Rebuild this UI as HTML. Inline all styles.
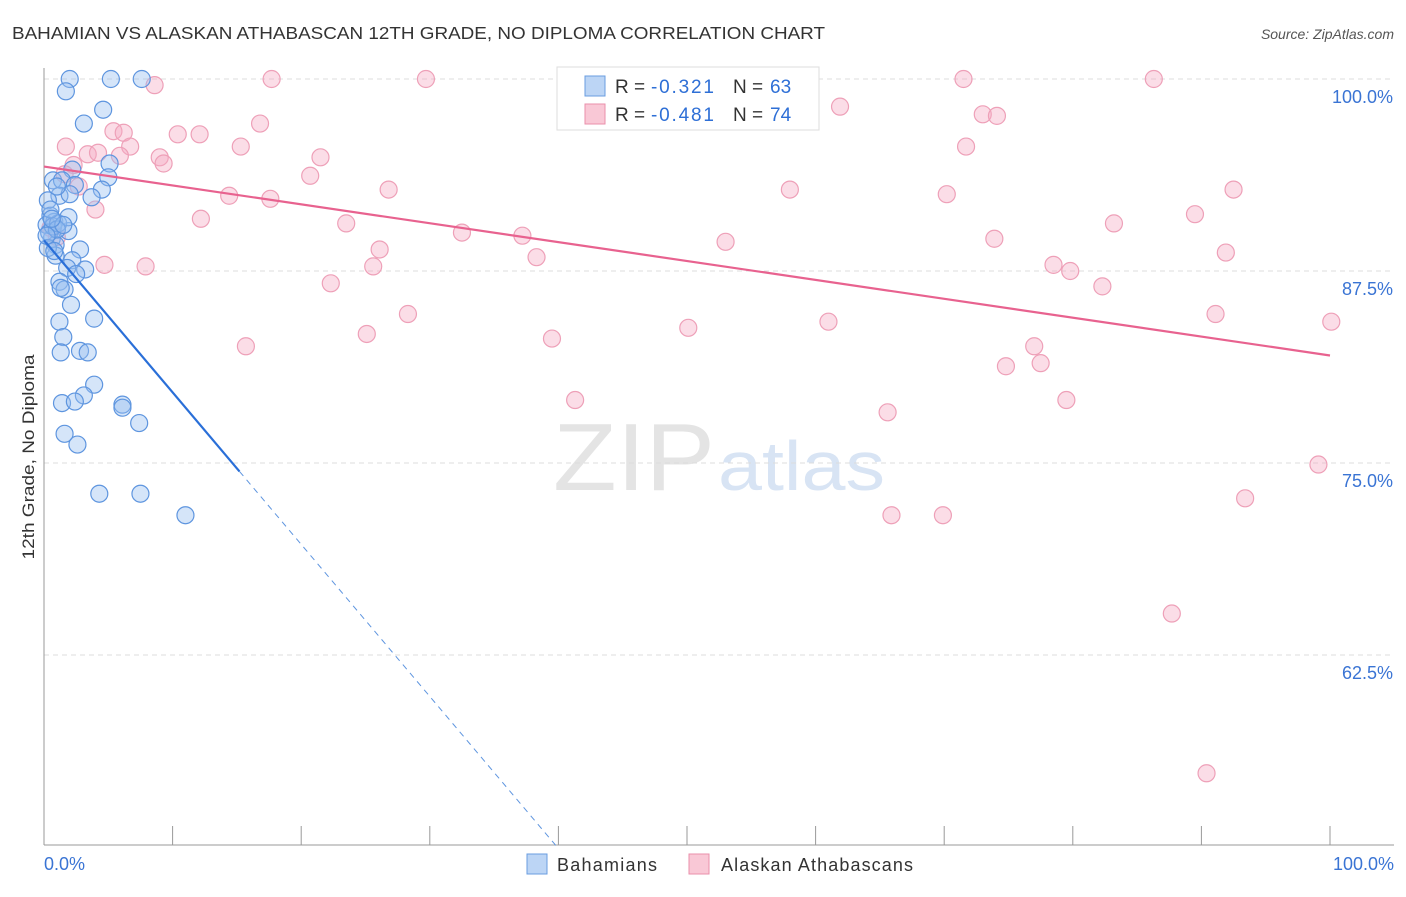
<!DOCTYPE html>
<html><head><meta charset="utf-8">
<style>
body{margin:0;background:#fff;font-family:"Liberation Sans",sans-serif;}
svg text{font-family:"Liberation Sans",sans-serif;}
</style></head>
<body>
<svg id="chart" width="1406" height="892">
<text x="12" y="39" font-size="17.5" fill="#333" textLength="813" lengthAdjust="spacingAndGlyphs">BAHAMIAN VS ALASKAN ATHABASCAN 12TH GRADE, NO DIPLOMA CORRELATION CHART</text>
<text x="1394" y="39" font-size="14" fill="#555" font-style="italic" text-anchor="end">Source: ZipAtlas.com</text>
<text x="553" y="490" font-size="96" fill="#e4e4e4" textLength="162" lengthAdjust="spacingAndGlyphs" font-family="Liberation Serif">ZIP</text>
<text x="718" y="490" font-size="70" fill="#d8e4f4" textLength="167" lengthAdjust="spacingAndGlyphs">atlas</text>
<text transform="translate(34,457) rotate(-90)" font-size="17" fill="#333" text-anchor="middle" textLength="205" lengthAdjust="spacingAndGlyphs">12th Grade, No Diploma</text>
<g id="grid"></g><g id="pts"></g><g id="lines"></g>
<g>
<rect x="557" y="67" width="262" height="63" fill="#fff" stroke="#ddd"/>
<rect x="585" y="76" width="20" height="20" fill="#bcd5f5" stroke="#6a9de0"/>
<rect x="585" y="104" width="20" height="20" fill="#f9c8d6" stroke="#ea8fab"/>
<g font-size="19" fill="#333">
<text x="615" y="93">R =</text><text x="651" y="93" fill="#2e6fd6" textLength="63">-0.321</text><text x="733" y="93">N =</text><text x="770" y="93" fill="#2e6fd6">63</text></g>
<g font-size="19" fill="#333">
<text x="615" y="121">R =</text><text x="651" y="121" fill="#2e6fd6" textLength="63">-0.481</text><text x="733" y="121">N =</text><text x="770" y="121" fill="#2e6fd6">74</text></g>
</g>
<g>
<rect x="527" y="854" width="20" height="20" fill="#bcd5f5" stroke="#6a9de0"/>
<text x="557" y="871" font-size="18" fill="#333" textLength="100">Bahamians</text>
<rect x="689" y="854" width="20" height="20" fill="#f9c8d6" stroke="#ea8fab"/>
<text x="721" y="871" font-size="18" fill="#333" textLength="192">Alaskan Athabascans</text>
</g>
</svg>
<script>
const yTicks=[100,87.5,75,62.5];
const yTickLabels=["100.0%","87.5%","75.0%","62.5%"];
const blueX=[2.0,5.2,7.6,1.7,4.6,3.1,5.1,2.2,0.7,1.4,5.0,2.4,4.5,1.2,3.7,0.3,0.5,0.8,0.2,1.9,0.6,0.9,2.8,0.9,2.2,1.8,3.2,1.2,1.6,2.1,3.9,1.2,1.5,1.3,2.8,3.4,3.9,3.1,1.4,2.4,6.1,6.1,7.4,1.6,2.6,4.3,7.5,11.0,0.4,0.7,1.1,0.3,1.9,0.5,1.0,0.2,1.5,2.0,0.8,1.3,2.5,0.6,1.0];
const blueY=[100,100,100,99.2,98.0,97.1,94.5,94.1,93.4,93.4,93.6,93.1,92.8,92.4,92.3,92.1,91.1,90.7,90.5,90.1,89.6,89.2,88.9,88.5,88.2,87.7,87.6,86.8,86.3,85.3,84.4,84.2,83.2,82.2,82.3,82.2,80.1,79.4,78.9,79.0,78.8,78.6,77.6,76.9,76.2,73.0,73.0,71.6,90.0,90.4,90.6,89.0,91.0,91.5,90.2,89.8,90.5,92.5,88.8,86.4,87.3,90.9,93.0];
const pinkX=[8.6,17.7,29.7,71.5,86.3,61.9,73.0,74.1,16.8,5.4,6.2,10.4,12.1,1.7,6.7,15.3,71.7,3.4,4.2,5.9,9.0,9.3,21.5,2.3,20.7,1.6,2.7,26.8,58.0,14.4,17.6,70.2,92.5,4.0,12.2,89.5,23.5,83.2,32.5,37.2,53.0,73.9,26.1,38.3,91.9,4.7,7.9,25.6,78.5,79.8,22.3,82.3,28.3,91.1,61.0,100.1,50.1,25.1,39.5,15.7,77.0,74.8,77.5,41.3,79.5,65.6,99.1,93.4,65.9,69.9,87.7,90.4,0.5,1.0];
const pinkY=[99.6,100,100,100,100,98.2,97.7,97.6,97.1,96.6,96.5,96.4,96.4,95.6,95.6,95.6,95.6,95.1,95.2,95.0,94.9,94.5,94.9,94.4,93.7,93.8,93.0,92.8,92.8,92.4,92.2,92.5,92.8,91.5,90.9,91.2,90.6,90.6,90.0,89.8,89.4,89.6,88.9,88.4,88.7,87.9,87.8,87.8,87.9,87.5,86.7,86.5,84.7,84.7,84.2,84.2,83.8,83.4,83.1,82.6,82.6,81.3,81.5,79.1,79.1,78.3,74.9,72.7,71.6,71.6,65.2,54.8,90.3,89.7];
const pinkTrend=[94.3,82.0];
const blueTrend=[89.5,50.1];
const X=v=>44+v*12.86, Y=v=>79+(100-v)*15.36;
const NS="http://www.w3.org/2000/svg";
function mk(tag,attrs,parent){const e=document.createElementNS(NS,tag);for(const k in attrs)e.setAttribute(k,attrs[k]);parent.appendChild(e);return e;}
const grid=document.getElementById('grid');
yTicks.forEach((t,i)=>{
 const l=mk('line',{x1:44,x2:1394,y1:Y(t),y2:Y(t),stroke:'#ddd','stroke-dasharray':'5,4'},grid);
 
 
 const tx=mk('text',{x:1393,y:Y(t)+24,'font-size':18,fill:'#3a74d4','text-anchor':'end'},grid);
 tx.textContent=yTickLabels[i];
 
 
});
const ax=mk('line',{x1:44,x2:44,y1:68,y2:845,stroke:'#999'},grid);


const bx=mk('line',{x1:44,x2:1394,y1:845,y2:845,stroke:'#999'},grid);


for(let k=0;k<=10;k++){const t=mk('line',{x1:X(k*10),x2:X(k*10),y1:826,y2:845,stroke:'#999'},grid);
 
 }
const xl=mk('text',{x:44,y:870,'font-size':18,fill:'#3a74d4'},grid);xl.textContent='0.0%';


const xr=mk('text',{x:1394,y:870,'font-size':18,fill:'#3a74d4','text-anchor':'end'},grid);xr.textContent='100.0%';


const pts=document.getElementById('pts');
pinkX.forEach((x,i)=>{const c=mk('circle',{cx:X(x),cy:Y(pinkY[i]),r:8.5,fill:'rgba(244,170,195,0.4)',stroke:'#eea0b8','stroke-width':1.2},pts);
 
 });
blueX.forEach((x,i)=>{const c=mk('circle',{cx:X(x),cy:Y(blueY[i]),r:8.5,fill:'rgba(150,190,240,0.4)',stroke:'#5e95df','stroke-width':1.2},pts);
 
 });
const lines=document.getElementById('lines');
const pl=mk('line',{x1:X(0),y1:Y(pinkTrend[0]),x2:X(100),y2:Y(pinkTrend[1]),stroke:'#e8628f','stroke-width':2.2},lines);


const bEndX=39.8, sEnd=15.2;
const by=x=>blueTrend[0]+(blueTrend[1]-blueTrend[0])*x/bEndX;
const bl=mk('line',{x1:X(0),y1:Y(by(0)),x2:X(sEnd),y2:Y(by(sEnd)),stroke:'#2a6fd8','stroke-width':2.2},lines);


const bd=mk('line',{x1:X(sEnd),y1:Y(by(sEnd)),x2:X(bEndX),y2:Y(by(bEndX)),stroke:'#5e95df','stroke-width':1,'stroke-dasharray':'6,5'},lines);


</script>
</body></html>
